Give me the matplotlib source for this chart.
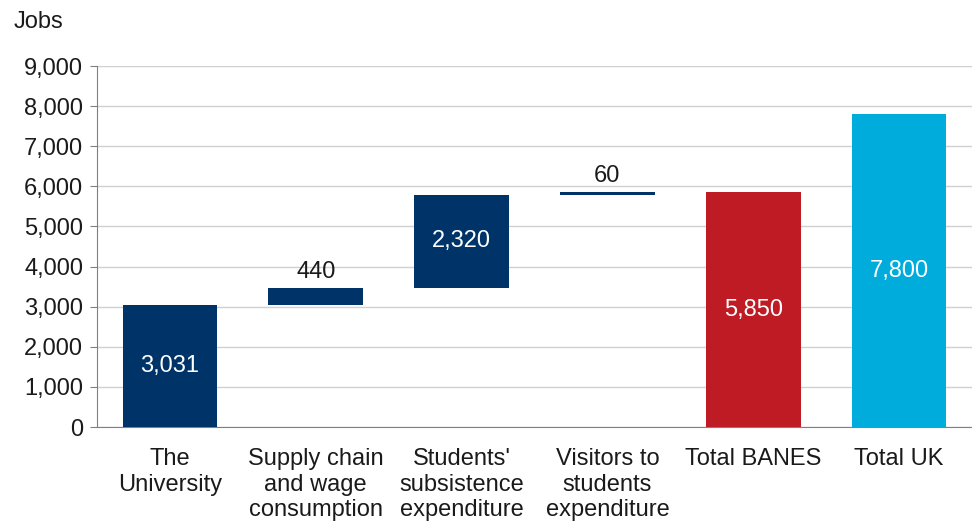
import matplotlib
matplotlib.use("Agg")
import matplotlib.pyplot as plt
import numpy as np

# dane wykresu
categories = ["The\nUniversity", "Supply chain\nand wage\nconsumption", "Students'\nsubsistence\nexpenditure",
              "Visitors to\nstudents\nexpenditure", "Total BANES", "Total UK"]
values = [3031, 440, 2320, 60, 5850, 7800]
bottoms = [0, 3031, 3471, 5791, 0, 0]
labels = ["3,031", "440", "2,320", "60", "5,850", "7,800"]
label_inside = [True, False, True, False, True, True]
colors = ["#003468", "#003468", "#003468", "#003468", "#be1b24", "#00acdc"]
yticks = np.arange(0, 9001, 1000)

plt.rcParams['font.family'] = ['Liberation Sans', 'DejaVu Sans']
fs = 17

fig = plt.figure(figsize=(9.72, 5.22), dpi=100)
ax = fig.add_axes([97 / 972, 1 - 427 / 522, 1 - 97 / 972, (427 - 66) / 522])

x = np.arange(len(categories))
ax.bar(x, values, bottom=bottoms, width=0.65, color=colors, zorder=3)

for i in range(len(values)):
    if label_inside[i]:
        ax.text(x[i], bottoms[i] + values[i] / 2, labels[i], ha='center', va='center',
                color='white', fontsize=fs, zorder=4)
    else:
        ax.text(x[i], bottoms[i] + values[i] + 130, labels[i], ha='center', va='bottom',
                color='#1a1a1a', fontsize=fs, zorder=4)

ax.set_xlim(-0.5, len(categories) - 0.5)
ax.set_ylim(0, 9000)
ax.set_yticks(yticks)
ax.set_yticklabels(["{:,}".format(v) for v in yticks], fontsize=fs, color='#1a1a1a')
ax.set_xticks(x)
ax.set_xticklabels(categories, fontsize=fs, color='#1a1a1a', va='top', linespacing=1.22)
ax.tick_params(axis='x', length=0, pad=15)
ax.tick_params(axis='y', length=5, color='#808080', pad=5)

ax.grid(axis='y', color='#d0d0d0', linewidth=1, zorder=0)
for s in ['top', 'right']:
    ax.spines[s].set_visible(False)
ax.spines['left'].set_color('#808080')
ax.spines['bottom'].set_color('#808080')

fig.text(14 / 972, 1 - 22 / 522, "Jobs", fontsize=fs, va='center', ha='left', color='#1a1a1a')

fig.savefig("out.png", dpi=100)
